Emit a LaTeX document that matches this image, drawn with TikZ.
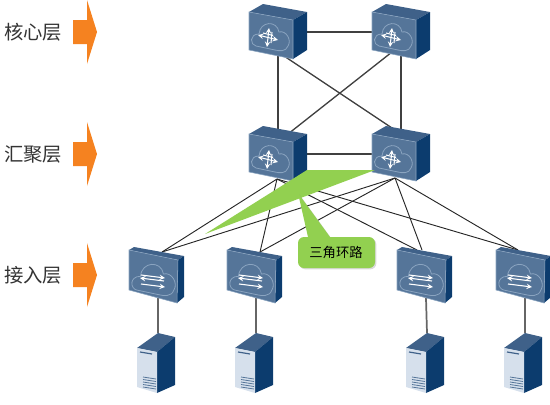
\documentclass[tikz,border=0pt]{standalone}
\usepackage{fontspec}
\newfontfamily\cjk{Noto Sans CJK SC}
\usetikzlibrary{backgrounds,shadows}

\definecolor{devfront}{HTML}{557599}
\definecolor{devtop}{HTML}{3F6189}
\definecolor{devside}{HTML}{0C3C6E}
\definecolor{devedge}{HTML}{8AA4C0}
\definecolor{srvfront}{HTML}{D6E0EC}
\definecolor{layerorange}{HTML}{F58220}
\definecolor{loopgreen}{HTML}{92D050}

% cloud outline on the front of a device
\newcommand{\cloudline}{%
  \draw[devedge, line width=0.6pt] (7,34) .. controls (1,33) and (0,22) .. (10,22)
    .. controls (11,9) and (28,8) .. (30,20)
    .. controls (37,18) and (43,28) .. (39,34)
    .. controls (37,40) and (30,39) .. (26,38) -- cycle;
}

\tikzset{
  devarrow/.style={white, line width=0.8pt, -stealth},
  router/.pic={
    \fill[devtop] (0,0) -- (14,-8) -- (58,0) -- (44,8) -- cycle;
    \fill[devside] (44,8) -- (58,0) -- (58,38) -- (44,47) -- cycle;
    \fill[devfront, draw=devedge, line width=0.4pt] (0,0) -- (44,8) -- (44,47) -- (0,38) -- cycle;
    \cloudline
    \draw[devarrow, stealth-stealth] (9,23) -- (29,28);
    \draw[devarrow, stealth-stealth] (20,16) -- (18,35);
    \draw[white, line width=0.8pt] (14,21) -- (24,23.5) (23,20) -- (22,31);
    \coordinate (-top) at (29,0);
    \coordinate (-mid) at (29,20);
    \coordinate (-low) at (29,40);
    \coordinate (-left) at (20,40);
    \coordinate (-right) at (39,0);
  },
  switch/.pic={
    \fill[devtop] (0,0) -- (5,-3) -- (55,6) -- (49,10) -- cycle;
    \fill[devside] (49,10) -- (55,6) -- (55,47) -- (48,53) -- cycle;
    \fill[devfront, draw=devedge, line width=0.4pt] (0,0) -- (49,10) -- (48,53) -- (0,40) -- cycle;
    \begin{scope}[shift={(0,1)}, scale=1.15]
      \cloudline
    \end{scope}
    \draw[devarrow] (12,25) -- (36,28);
    \draw[devarrow] (35,31) -- (11,28);
    \draw[devarrow] (12,34) -- (36,37);
    \coordinate (-down) at (29,48);
  },
  server/.pic={
    \fill[devtop] (0,0) -- (21,-15) -- (38,-11) -- (20,4) -- cycle;
    \fill[devside] (20,4) -- (38,-11) -- (38,37) -- (20,45) -- cycle;
    \fill[srvfront] (0,0) -- (20,4) -- (20,45) -- (0,39) -- cycle;
    \draw[devtop, line width=0.9pt] (3,4) -- (15,6);
    \foreach \h in {29,31.5,34,36.5,39}
      \draw[devfront, line width=0.6pt] (6,\h) -- (19,\h+2);
    \coordinate (-top) at (21,-15);
  },
  corelink/.style={black!75, line width=1pt},
  acclink/.style={black!85, line width=0.7pt},
  srvlink/.style={black!60, line width=1.3pt},
  layerlabel/.style={font=\cjk\fontsize{14.5pt}{16pt}\selectfont, text=black!80, inner sep=0pt},
  layerarrow/.style={fill=layerorange},
  greenarea/.style={fill=loopgreen},
  looplabel/.style={font=\cjk\fontsize{10pt}{12pt}\selectfont, inner sep=0pt}
}

\begin{document}
\begin{tikzpicture}[x=0.75pt, y=-0.75pt]
  \useasboundingbox (0,0) rectangle (550,404);

  % Layer names and arrows
  \foreach \n/\t/\y in {core/核心层/32, agg/汇聚层/154, acc/接入层/275} {
    \node[layerlabel] (\n label) at (33,\y) {\t};
    \fill[layerarrow] (73,\y-12) -- (87,\y-12) -- (87,\y-32) -- (97,\y)
      -- (87,\y+32) -- (87,\y+12) -- (73,\y+12) -- cycle;
  }

  % Devices
  \pic (core1) at (249,12) {router};
  \pic (core2) at (372,12) {router};
  \pic (agg1) at (249,134) {router};
  \pic (agg2) at (372,134) {router};
  \foreach \n/\x in {1/129, 2/227, 3/397, 4/496}
    \pic (acc\n) at (\x,250) {switch};
  \foreach \n/\x in {1/137, 2/235, 3/406, 4/504}
    \pic (srv\n) at (\x,348) {server};

  % Where the links leave the aggregation layer and reach the access layer
  \coordinate (agg1-down) at (277,179);
  \coordinate (agg2-down) at (395,178);
  \coordinate (acc1-up) at (162,252);
  \coordinate (acc2-up) at (260,252);
  \coordinate (acc3-upa) at (417,250);
  \coordinate (acc3-upb) at (422,250);
  \coordinate (acc4-up) at (518,250);

  \begin{scope}[on background layer]
    % Core and aggregation links
    \draw[corelink] (core1-mid) -- (core2-mid);
    \draw[corelink] (agg1-mid) -- (agg2-mid);
    \draw[corelink] (core1-low) -- (agg1-top);
    \draw[corelink] (core2-low) -- (agg2-top);
    \draw[corelink] (core1-low) -- (agg2-top);
    \draw[corelink] (core2-left) -- (agg1-right);

    % Access links
    \foreach \a in {acc1-up, acc2-up, acc3-upa, acc4-up}
      \draw[acclink] (agg1-down) -- (\a);
    \foreach \a in {acc1-up, acc2-up, acc3-upb, acc4-up}
      \draw[acclink] (agg2-down) -- (\a);

    % Server links
    \foreach \n in {1,2,3,4}
      \draw[srvlink] (acc\n-down) -- (srv\n-top);
  \end{scope}

  % Triangle loop and its callout
  \fill[greenarea] (205,234) -- (307,170) -- (375,170) -- cycle;
  \fill[greenarea, drop shadow={shadow xshift=1pt, shadow yshift=-1pt, opacity=0.3}]
    (298,193) -- (330,237) -- (369,237) arc[start angle=-90, end angle=0, radius=6]
    -- (375,262) arc[start angle=0, end angle=90, radius=6]
    -- (304,268) arc[start angle=90, end angle=180, radius=6]
    -- (298,243) arc[start angle=180, end angle=270, radius=6]
    -- (308,237) -- cycle;
  \node[looplabel] (looplabel) at (336,252) {三角环路};
\end{tikzpicture}
\end{document}
